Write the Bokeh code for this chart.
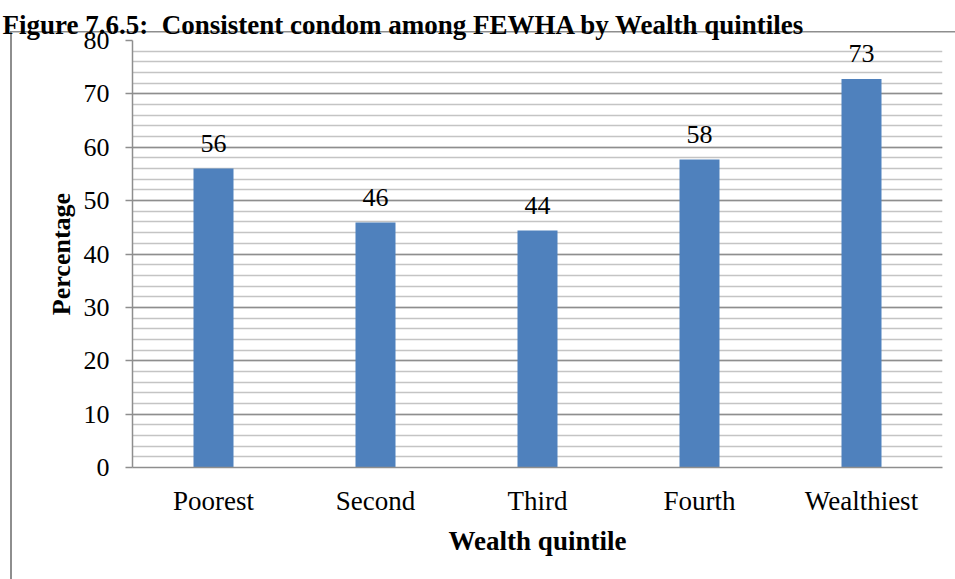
from bokeh.plotting import figure
from bokeh.models import (ColumnDataSource, SingleIntervalTicker, Label, Range1d, LabelSet)
from bokeh.core.properties import value
from bokeh.embed import file_html
from bokeh.resources import INLINE

categories = ["Poorest", "Second", "Third", "Fourth", "Wealthiest"]
percentages = [56.0, 45.9, 44.4, 57.7, 72.8]
labels = ["56", "46", "44", "58", "73"]
title_text = "Figure 7.6.5:\u00a0 Consistent condom among FEWHA by Wealth quintiles"

FONT = "Liberation Serif"
GRAY = "#8E8E8E"

source = ColumnDataSource(dict(cat=categories, pct=percentages, lab=labels))

p = figure(width=955, height=579, x_range=categories, y_range=Range1d(0, 80),
           output_backend="svg", toolbar_location=None,
           min_border_left=132, min_border_right=13, min_border_top=40, min_border_bottom=112)
p.outline_line_color = None
p.background_fill_color = "white"
p.border_fill_color = None
p.styles = {
    "background": ("linear-gradient(#8E8E8E,#8E8E8E) 10px 31px / 2px 100% no-repeat, "
                   "linear-gradient(#8E8E8E,#8E8E8E) 10px 31px / 100% 1.5px no-repeat, #ffffff"),
}

p.vbar(x="cat", top="pct", width=0.247, source=source, fill_color="#4F81BD", line_color=None)

ticker = SingleIntervalTicker(interval=10, num_minor_ticks=5)
p.yaxis.ticker = ticker
p.ygrid.ticker = ticker
p.ygrid.grid_line_color = GRAY
p.ygrid.grid_line_width = 1.5
p.ygrid.minor_grid_line_color = "#C4C4C4"
p.ygrid.minor_grid_line_width = 1.5
p.xgrid.grid_line_color = None

for ax in (p.xaxis, p.yaxis):
    ax.axis_line_color = GRAY
    ax.axis_line_width = 1.5
    ax.major_tick_line_color = GRAY
    ax.major_tick_line_width = 1.5
    ax.minor_tick_line_color = None
    ax.major_label_text_font = FONT
    ax.major_label_text_color = "black"
    ax.axis_label_text_font = FONT
    ax.axis_label_text_font_style = "bold"
    ax.axis_label_text_color = "black"

p.yaxis.major_label_text_font_size = "26px"
p.yaxis.axis_label_text_font_size = "26px"
p.yaxis.major_tick_in = 0
p.yaxis.major_tick_out = 7
p.yaxis.major_label_standoff = 16
p.yaxis.axis_label = "Percentage"
p.yaxis.axis_label_standoff = 5

p.xaxis.major_label_text_font_size = "27px"
p.xaxis.axis_label_text_font_size = "27px"
p.xaxis.major_tick_in = 0
p.xaxis.major_tick_out = 0
p.xaxis.major_label_standoff = 18
p.xaxis.axis_label = "Wealth quintile"
p.xaxis.axis_label_standoff = 7

vals = LabelSet(x="cat", y="pct", text="lab", source=source, text_align="center",
                text_baseline="alphabetic", y_offset=17,
                text_font=value(FONT), text_font_size="26px", text_color="black")
p.add_layout(vals)

title = Label(x=-130, y=16, x_units="screen", y_units="screen", text=title_text,
              text_font=FONT, text_font_size="27px", text_font_style="bold",
              text_color="black", text_baseline="alphabetic", text_align="left")
p.add_layout(title, "above")

open("out.html", "w").write(file_html(p, INLINE))
